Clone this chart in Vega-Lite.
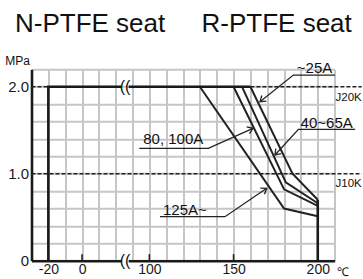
{
  "$schema": "https://vega.github.io/schema/vega-lite/v6.json",
  "width": 303.1,
  "height": 191.4,
  "autosize": {"type": "none"},
  "padding": {"left": 31.5, "top": 69.3, "right": 28.4, "bottom": 18.3},
  "config": {"view": {"stroke": null}, "font": "Liberation Sans"},
  "datasets": {
    "lines": [
      {"k": "dash", "g": "d1", "o": 1, "t": -30, "p": 2.0},
      {"k": "dash", "g": "d1", "o": 2, "t": -20, "p": 2.0},
      {"k": "dash", "g": "d2", "o": 1, "t": 160, "p": 2.0},
      {"k": "dash", "g": "d2", "o": 2, "t": 226.1, "p": 2.0},
      {"k": "dash", "g": "d3", "o": 1, "t": -30, "p": 1.0},
      {"k": "dash", "g": "d3", "o": 2, "t": 226.1, "p": 1.0},
      {"k": "curve", "g": "125A~", "o": 1, "t": 130, "p": 2.0},
      {"k": "curve", "g": "125A~", "o": 2, "t": 180, "p": 0.6},
      {"k": "curve", "g": "125A~", "o": 3, "t": 200, "p": 0.51},
      {"k": "curve", "g": "80, 100A", "o": 1, "t": 150, "p": 2.0},
      {"k": "curve", "g": "80, 100A", "o": 2, "t": 180, "p": 0.82},
      {"k": "curve", "g": "80, 100A", "o": 3, "t": 200, "p": 0.63},
      {"k": "curve", "g": "40~65A", "o": 1, "t": 155, "p": 2.0},
      {"k": "curve", "g": "40~65A", "o": 2, "t": 181, "p": 0.9},
      {"k": "curve", "g": "40~65A", "o": 3, "t": 200, "p": 0.66},
      {"k": "curve", "g": "~25A", "o": 1, "t": 160, "p": 2.0},
      {"k": "curve", "g": "~25A", "o": 2, "t": 185, "p": 1.0},
      {"k": "curve", "g": "~25A", "o": 3, "t": 200, "p": 0.7},
      {"k": "env", "g": "envL", "o": 1, "t": -20, "p": 0},
      {"k": "env", "g": "envL", "o": 2, "t": -20, "p": 2.0},
      {"k": "env", "g": "envL", "o": 3, "t": 23.5, "p": 2.0},
      {"k": "env", "g": "envR", "o": 1, "t": 87.7, "p": 2.0},
      {"k": "env", "g": "envR", "o": 2, "t": 160, "p": 2.0},
      {"k": "env", "g": "env200", "o": 1, "t": 200, "p": 0.7},
      {"k": "env", "g": "env200", "o": 2, "t": 200, "p": 0},
      {"k": "lead", "g": "l25", "o": 1, "t": 210.25, "p": 2.134},
      {"k": "lead", "g": "l25", "o": 2, "t": 185.5, "p": 2.134},
      {"k": "lead", "g": "l25", "o": 3, "t": 165.7, "p": 1.828},
      {"k": "lead", "g": "l80", "o": 1, "t": 94, "p": 1.292},
      {"k": "lead", "g": "l80", "o": 2, "t": 135, "p": 1.292},
      {"k": "lead", "g": "l80", "o": 3, "t": 161.5, "p": 1.522},
      {"k": "lead", "g": "l40", "o": 1, "t": 222.2, "p": 1.51},
      {"k": "lead", "g": "l40", "o": 2, "t": 188.5, "p": 1.51},
      {"k": "lead", "g": "l40", "o": 3, "t": 174.6, "p": 1.215},
      {"k": "lead", "g": "l125", "o": 1, "t": 106.3, "p": 0.506},
      {"k": "lead", "g": "l125", "o": 2, "t": 144.9, "p": 0.506},
      {"k": "lead", "g": "l125", "o": 3, "t": 169.7, "p": 0.832},
      {"k": "tick", "g": "t0", "o": 1, "t": 0, "p": 0},
      {"k": "tick", "g": "t0", "o": 2, "t": 0, "p": 0.075},
      {"k": "tick", "g": "t100", "o": 1, "t": 100, "p": 0},
      {"k": "tick", "g": "t100", "o": 2, "t": 100, "p": 0.075},
      {"k": "tick", "g": "t150", "o": 1, "t": 150, "p": 0},
      {"k": "tick", "g": "t150", "o": 2, "t": 150, "p": 0.075}
    ],
    "arrows": [
      {"t": 165.7, "p": 1.828, "a": 141},
      {"t": 161.5, "p": 1.522, "a": 337},
      {"t": 174.6, "p": 1.215, "a": 132},
      {"t": 169.7, "p": 0.832, "a": 326}
    ],
    "gaps": [{"t": 23.5, "t2": 87.7, "p": -0.03, "p2": 0.03}],
    "texts": [
      {"k": "title", "s": "N-PTFE seat", "t": 4.8, "p": 2.625},
      {"k": "title", "s": "R-PTFE seat", "t": 175.6, "p": 2.625},
      {"k": "note", "s": "~25A", "t": 198.1, "p": 2.157},
      {"k": "note", "s": "80, 100A", "t": 114.2, "p": 1.336},
      {"k": "note", "s": "40~65A", "t": 205.3, "p": 1.531},
      {"k": "note", "s": "125A~", "t": 121.1, "p": 0.525},
      {"k": "ref", "s": "J20K", "t": 226.1, "p": 1.839},
      {"k": "ref", "s": "J10K", "t": 226.1, "p": 0.847},
      {"k": "unit", "s": "MPa", "t": -38.3, "p": 2.249},
      {"k": "unit", "s": "℃", "t": 215, "p": -0.176},
      {"k": "brk", "s": "((", "t": 85.5, "p": 2.0},
      {"k": "brk", "s": "((", "t": 85.5, "p": 0}
    ]
  },
  "encoding": {
    "x": {
      "field": "t",
      "type": "quantitative",
      "scale": {"type": "linear", "domain": [-30, 25, 85, 210], "range": [0, 92.62, 92.62, 303.1], "zero": false, "nice": false},
      "axis": {
        "title": null,
        "values": [-30, -20, -10, 0, 10, 20, 90, 100, 110, 120, 130, 140, 150, 160, 170, 180, 190, 200, 210],
        "labelExpr": "datum.value == -20 ? '-20' : datum.value == 0 ? '0' : datum.value == 100 ? '100' : datum.value == 150 ? '150' : datum.value == 200 ? '200' : ''",
        "grid": true,
        "gridColor": "#c6c6c6",
        "gridWidth": 2,
        "ticks": false,
        "tickSize": 0,
        "domainColor": "#1a1a1a",
        "domainWidth": 2.6,
        "labelFont": "Liberation Sans",
        "labelFontSize": 14,
        "labelColor": "#1a1a1a",
        "labelPadding": 2,
        "labelOverlap": false,
        "labelFlush": false,
        "labelBound": false,
        "zindex": 0
      }
    },
    "y": {
      "field": "p",
      "type": "quantitative",
      "scale": {"domain": [0, 2.2], "zero": false, "nice": false},
      "axis": {
        "title": null,
        "values": [0, 0.2, 0.4, 0.6, 0.8, 1, 1.2, 1.4, 1.6, 1.8, 2, 2.2],
        "labelExpr": "datum.value == 0 ? '0' : datum.value == 1 ? '1.0' : datum.value == 2 ? '2.0' : ''",
        "grid": true,
        "gridColor": "#c6c6c6",
        "gridWidth": 2,
        "ticks": false,
        "tickSize": 0,
        "domainColor": "#1a1a1a",
        "domainWidth": 2.6,
        "labelFont": "Liberation Sans",
        "labelFontSize": 15,
        "labelColor": "#1a1a1a",
        "labelPadding": 3,
        "labelOverlap": false,
        "labelFlush": false,
        "labelBound": false,
        "zindex": 0
      }
    }
  },
  "layer": [
    {
      "data": {"name": "lines"},
      "transform": [{"filter": "datum.k == 'dash'"}],
      "mark": {"type": "line", "strokeDash": [4, 2], "strokeWidth": 1.6, "color": "#222222"},
      "encoding": {"detail": {"field": "g"}, "order": {"field": "o", "type": "quantitative"}}
    },
    {
      "data": {"name": "lines"},
      "transform": [{"filter": "datum.k == 'curve'"}],
      "mark": {"type": "line", "strokeWidth": 2, "color": "#222222"},
      "encoding": {"detail": {"field": "g"}, "order": {"field": "o", "type": "quantitative"}}
    },
    {
      "data": {"name": "lines"},
      "transform": [{"filter": "datum.k == 'env'"}],
      "mark": {"type": "line", "strokeWidth": 2.6, "color": "#1a1a1a"},
      "encoding": {"detail": {"field": "g"}, "order": {"field": "o", "type": "quantitative"}}
    },
    {
      "data": {"name": "lines"},
      "transform": [{"filter": "datum.k == 'lead'"}],
      "mark": {"type": "line", "strokeWidth": 1.3, "color": "#222222"},
      "encoding": {"detail": {"field": "g"}, "order": {"field": "o", "type": "quantitative"}}
    },
    {
      "data": {"name": "lines"},
      "transform": [{"filter": "datum.k == 'tick'"}],
      "mark": {"type": "line", "strokeWidth": 1.6, "color": "#222222"},
      "encoding": {"detail": {"field": "g"}, "order": {"field": "o", "type": "quantitative"}}
    },
    {
      "data": {"name": "gaps"},
      "mark": {"type": "rect", "color": "white"},
      "encoding": {"x2": {"field": "t2"}, "y2": {"field": "p2"}}
    },
    {
      "data": {"name": "arrows"},
      "mark": {"type": "point", "shape": "M -1 -0.7 L 0 0 L -1 0.7", "filled": false, "color": "#222222", "strokeWidth": 1.3, "size": 110, "opacity": 1},
      "encoding": {"angle": {"field": "a", "type": "quantitative", "scale": null}}
    },
    {
      "data": {"name": "texts"},
      "transform": [{"filter": "datum.k == 'title'"}],
      "mark": {"type": "text", "font": "Liberation Sans", "fontSize": 26, "align": "center", "baseline": "alphabetic", "color": "#111111"},
      "encoding": {"text": {"field": "s"}}
    },
    {
      "data": {"name": "texts"},
      "transform": [{"filter": "datum.k == 'note'"}],
      "mark": {"type": "text", "font": "Liberation Sans", "fontSize": 15, "align": "center", "baseline": "alphabetic", "color": "#111111"},
      "encoding": {"text": {"field": "s"}}
    },
    {
      "data": {"name": "texts"},
      "transform": [{"filter": "datum.k == 'ref'"}],
      "mark": {"type": "text", "font": "Liberation Sans", "fontSize": 11.5, "align": "right", "baseline": "alphabetic", "color": "#111111"},
      "encoding": {"text": {"field": "s"}}
    },
    {
      "data": {"name": "texts"},
      "transform": [{"filter": "datum.k == 'unit'"}],
      "mark": {"type": "text", "font": "Liberation Sans", "fontSize": 12, "align": "center", "baseline": "alphabetic", "color": "#111111"},
      "encoding": {"text": {"field": "s"}}
    },
    {
      "data": {"name": "texts"},
      "transform": [{"filter": "datum.k == 'brk'"}],
      "mark": {"type": "text", "font": "Liberation Sans", "fontSize": 16, "align": "center", "baseline": "middle", "color": "#111111"},
      "encoding": {"text": {"field": "s"}}
    }
  ]
}
